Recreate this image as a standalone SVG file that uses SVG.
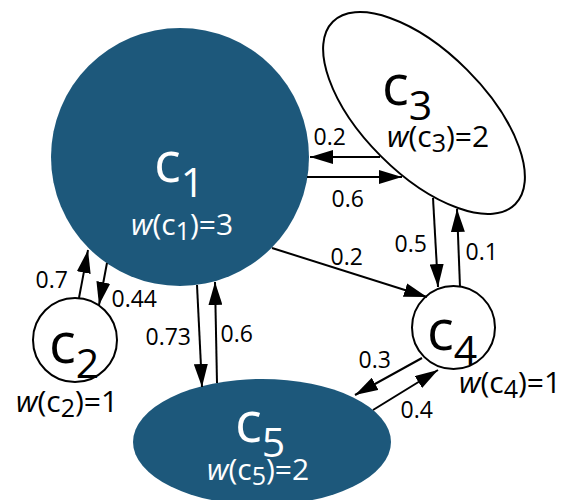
<svg xmlns="http://www.w3.org/2000/svg" width="565" height="500" viewBox="0 0 565 500">
<style>
text{font-family:"Open Sans","Noto Sans",sans-serif;}
.blue{fill:#1d587b;}
.white{fill:#fff;stroke:#000;stroke-width:2;}
.big{font-size:56px;}
.sub{font-size:41px;}
.wl{font-size:30px;}
.ws{font-size:25px;}
.it{font-style:italic;}
.lt{fill:#fff;}
.dk{fill:#000;}
.edge{stroke:#000;stroke-width:2;fill:none;marker-end:url(#arr);}
.el{font-size:23px;fill:#000;}
</style>
<defs>
<marker id="arr" markerUnits="userSpaceOnUse" markerWidth="24" markerHeight="14" refX="23" refY="7" orient="auto">
<path d="M0,0 L23,7 L0,14 z" fill="#000"/>
</marker>
</defs>
<rect width="565" height="500" fill="#fff"/>
<g id="c1">
<circle class="blue" cx="180" cy="157" r="129"/>
<text class="big lt" x="154" y="182">c<tspan class="sub" dy="15">1</tspan></text>
<text class="wl lt" x="131" y="235"><tspan class="it">w</tspan>(c<tspan class="ws" dy="5">1</tspan><tspan dy="-5">)=3</tspan></text>
</g>
<g id="c3">
<ellipse class="white" cx="424" cy="113" rx="129" ry="61" transform="rotate(45 424 113)"/>
<text class="big dk" x="382" y="105">c<tspan class="sub" dy="15">3</tspan></text>
<text class="wl dk" x="387" y="147"><tspan class="it">w</tspan>(c<tspan class="ws" dy="5">3</tspan><tspan dy="-5">)=2</tspan></text>
</g>
<g id="c2">
<circle class="white" cx="75" cy="340" r="42"/>
<text class="big dk" x="49" y="363">c<tspan class="sub" dy="15">2</tspan></text>
<text class="wl dk" x="16" y="412"><tspan class="it">w</tspan>(c<tspan class="ws" dy="5">2</tspan><tspan dy="-5">)=1</tspan></text>
</g>
<g id="c4">
<circle class="white" cx="453.5" cy="327.5" r="41.5"/>
<text class="big dk" x="427" y="350">c<tspan class="sub" dy="15">4</tspan></text>
<text class="wl dk" x="459" y="393"><tspan class="it">w</tspan>(c<tspan class="ws" dy="5">4</tspan><tspan dy="-5">)=1</tspan></text>
</g>
<g id="c5">
<ellipse class="blue" cx="262" cy="442" rx="129" ry="63"/>
<text class="big lt" x="235" y="442">c<tspan class="sub" dy="15">5</tspan></text>
<text class="wl lt" x="207" y="480"><tspan class="it">w</tspan>(c<tspan class="ws" dy="5">5</tspan><tspan dy="-5">)=2</tspan></text>
</g>
<g id="connectors">
<line class="edge" x1="380" y1="157" x2="310" y2="157"/>
<line class="edge" x1="307" y1="177" x2="402" y2="177"/>
<line class="edge" x1="433" y1="198" x2="438" y2="287"/>
<line class="edge" x1="460" y1="287" x2="457" y2="209"/>
<line class="edge" x1="272" y1="248" x2="427" y2="297"/>
<line class="edge" x1="79" y1="298" x2="88" y2="250"/>
<line class="edge" x1="107" y1="263" x2="99" y2="305"/>
<line class="edge" x1="197" y1="285" x2="202" y2="387"/>
<line class="edge" x1="217" y1="383" x2="215" y2="282"/>
<line class="edge" x1="422" y1="358" x2="355" y2="395"/>
<line class="edge" x1="373" y1="410" x2="438" y2="370"/>
<text class="el" x="313.5" y="145">0.2</text>
<text class="el" x="331.5" y="207">0.6</text>
<text class="el" x="394.5" y="252">0.5</text>
<text class="el" x="465.5" y="260">0.1</text>
<text class="el" x="330.5" y="265">0.2</text>
<text class="el" x="35.5" y="288">0.7</text>
<text class="el" x="111.5" y="307">0.44</text>
<text class="el" x="145.5" y="345">0.73</text>
<text class="el" x="220.5" y="342">0.6</text>
<text class="el" x="358.5" y="368">0.3</text>
<text class="el" x="400.5" y="418">0.4</text>
</g>
</svg>
